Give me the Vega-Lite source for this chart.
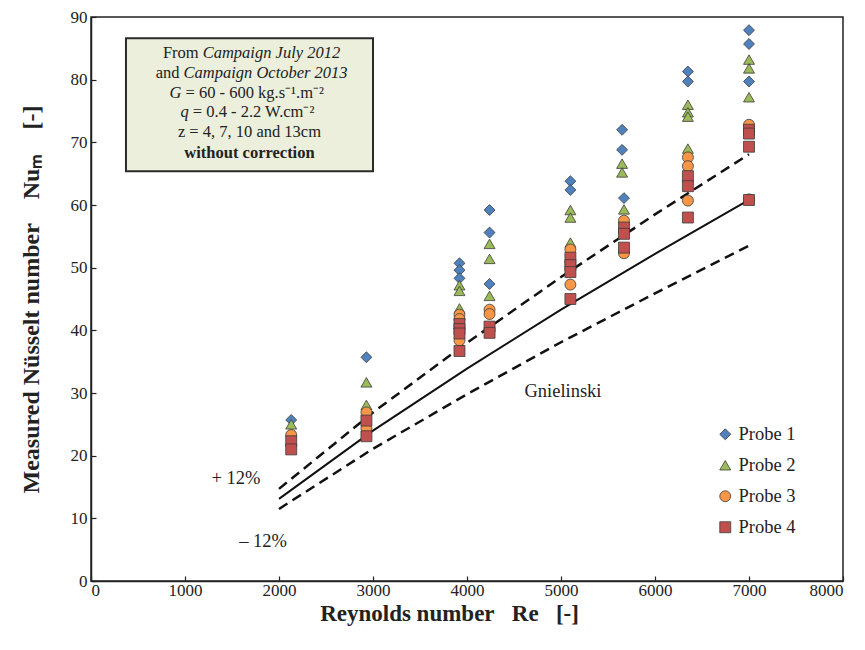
{
  "$schema": "https://vega.github.io/schema/vega-lite/v6.json",
  "width": 752,
  "height": 564,
  "autosize": {"type": "none"},
  "padding": {"left": 91, "top": 17, "right": 22, "bottom": 69},
  "background": "white",
  "config": {
    "font": "Liberation Serif",
    "view": {"stroke": "#222", "strokeWidth": 1.5},
    "axis": {
      "grid": false,
      "domainColor": "#222",
      "domainWidth": 1.5,
      "tickColor": "#222",
      "tickWidth": 1.2,
      "tickSize": -5,
      "labelFont": "Liberation Serif",
      "labelFontSize": 17,
      "labelColor": "#222",
      "titleFont": "Liberation Serif",
      "titleFontSize": 23,
      "titleFontWeight": "bold",
      "titleColor": "#222"
    },
    "legend": {"labelFont": "Liberation Serif"}
  },
  "datasets": {
    "probes": [
      {"probe": "Probe 1", "re": 2130, "nu": 25.7},
      {"probe": "Probe 1", "re": 2930, "nu": 35.7},
      {"probe": "Probe 1", "re": 3920, "nu": 50.7},
      {"probe": "Probe 1", "re": 3920, "nu": 49.6},
      {"probe": "Probe 1", "re": 3920, "nu": 48.3},
      {"probe": "Probe 1", "re": 4240, "nu": 59.2},
      {"probe": "Probe 1", "re": 4240, "nu": 55.6},
      {"probe": "Probe 1", "re": 4240, "nu": 47.4},
      {"probe": "Probe 1", "re": 5100, "nu": 63.8},
      {"probe": "Probe 1", "re": 5100, "nu": 62.4},
      {"probe": "Probe 1", "re": 5650, "nu": 72.0},
      {"probe": "Probe 1", "re": 5650, "nu": 68.8},
      {"probe": "Probe 1", "re": 5670, "nu": 61.1},
      {"probe": "Probe 1", "re": 6350, "nu": 81.3},
      {"probe": "Probe 1", "re": 6350, "nu": 79.7},
      {"probe": "Probe 1", "re": 7000, "nu": 87.9},
      {"probe": "Probe 1", "re": 7000, "nu": 85.7},
      {"probe": "Probe 1", "re": 7000, "nu": 79.7},
      {"probe": "Probe 2", "re": 2130, "nu": 25.0},
      {"probe": "Probe 2", "re": 2930, "nu": 31.7},
      {"probe": "Probe 2", "re": 2930, "nu": 28.1},
      {"probe": "Probe 2", "re": 3920, "nu": 47.2},
      {"probe": "Probe 2", "re": 3920, "nu": 46.3},
      {"probe": "Probe 2", "re": 3920, "nu": 43.5},
      {"probe": "Probe 2", "re": 4240, "nu": 53.8},
      {"probe": "Probe 2", "re": 4240, "nu": 51.4},
      {"probe": "Probe 2", "re": 4240, "nu": 45.5},
      {"probe": "Probe 2", "re": 5100, "nu": 59.2},
      {"probe": "Probe 2", "re": 5100, "nu": 58.0},
      {"probe": "Probe 2", "re": 5100, "nu": 54.0},
      {"probe": "Probe 2", "re": 5650, "nu": 66.6},
      {"probe": "Probe 2", "re": 5650, "nu": 65.2},
      {"probe": "Probe 2", "re": 5670, "nu": 59.3},
      {"probe": "Probe 2", "re": 6350, "nu": 76.0},
      {"probe": "Probe 2", "re": 6350, "nu": 74.8},
      {"probe": "Probe 2", "re": 6350, "nu": 74.1},
      {"probe": "Probe 2", "re": 6350, "nu": 69.0},
      {"probe": "Probe 2", "re": 7000, "nu": 83.2},
      {"probe": "Probe 2", "re": 7000, "nu": 81.8},
      {"probe": "Probe 2", "re": 7000, "nu": 77.2},
      {"probe": "Probe 3", "re": 2130, "nu": 23.3},
      {"probe": "Probe 3", "re": 2930, "nu": 26.9},
      {"probe": "Probe 3", "re": 2930, "nu": 24.4},
      {"probe": "Probe 3", "re": 3920, "nu": 42.5},
      {"probe": "Probe 3", "re": 3920, "nu": 41.8},
      {"probe": "Probe 3", "re": 3920, "nu": 38.4},
      {"probe": "Probe 3", "re": 4240, "nu": 43.3},
      {"probe": "Probe 3", "re": 4240, "nu": 42.6},
      {"probe": "Probe 3", "re": 5100, "nu": 52.9},
      {"probe": "Probe 3", "re": 5100, "nu": 50.5},
      {"probe": "Probe 3", "re": 5100, "nu": 47.3},
      {"probe": "Probe 3", "re": 5670, "nu": 57.5},
      {"probe": "Probe 3", "re": 5670, "nu": 52.3},
      {"probe": "Probe 3", "re": 6350, "nu": 67.6},
      {"probe": "Probe 3", "re": 6350, "nu": 66.2},
      {"probe": "Probe 3", "re": 6350, "nu": 60.7},
      {"probe": "Probe 3", "re": 7000, "nu": 72.8},
      {"probe": "Probe 3", "re": 7000, "nu": 60.9},
      {"probe": "Probe 4", "re": 2130, "nu": 22.3},
      {"probe": "Probe 4", "re": 2130, "nu": 21.0},
      {"probe": "Probe 4", "re": 2930, "nu": 25.6},
      {"probe": "Probe 4", "re": 2930, "nu": 23.1},
      {"probe": "Probe 4", "re": 3920, "nu": 41.0},
      {"probe": "Probe 4", "re": 3920, "nu": 40.2},
      {"probe": "Probe 4", "re": 3920, "nu": 39.5},
      {"probe": "Probe 4", "re": 3920, "nu": 36.7},
      {"probe": "Probe 4", "re": 4240, "nu": 40.6},
      {"probe": "Probe 4", "re": 4240, "nu": 39.6},
      {"probe": "Probe 4", "re": 5100, "nu": 51.6},
      {"probe": "Probe 4", "re": 5100, "nu": 50.4},
      {"probe": "Probe 4", "re": 5100, "nu": 49.3},
      {"probe": "Probe 4", "re": 5100, "nu": 45.0},
      {"probe": "Probe 4", "re": 5670, "nu": 56.4},
      {"probe": "Probe 4", "re": 5670, "nu": 55.4},
      {"probe": "Probe 4", "re": 5670, "nu": 53.2},
      {"probe": "Probe 4", "re": 6350, "nu": 64.6},
      {"probe": "Probe 4", "re": 6350, "nu": 63.0},
      {"probe": "Probe 4", "re": 6350, "nu": 58.0},
      {"probe": "Probe 4", "re": 7000, "nu": 72.0},
      {"probe": "Probe 4", "re": 7000, "nu": 71.4},
      {"probe": "Probe 4", "re": 7000, "nu": 69.3},
      {"probe": "Probe 4", "re": 7000, "nu": 60.8}
    ],
    "correlation": [
      {"curve": "Gnielinski", "re": 2000, "nu": 13.1},
      {"curve": "Gnielinski", "re": 3000, "nu": 24.0},
      {"curve": "Gnielinski", "re": 4000, "nu": 33.9},
      {"curve": "Gnielinski", "re": 5000, "nu": 43.3},
      {"curve": "Gnielinski", "re": 6000, "nu": 52.2},
      {"curve": "Gnielinski", "re": 7000, "nu": 60.8},
      {"curve": "+12%", "re": 2000, "nu": 14.7},
      {"curve": "+12%", "re": 3000, "nu": 26.9},
      {"curve": "+12%", "re": 4000, "nu": 38.0},
      {"curve": "+12%", "re": 5000, "nu": 48.5},
      {"curve": "+12%", "re": 6000, "nu": 58.5},
      {"curve": "+12%", "re": 7000, "nu": 68.1},
      {"curve": "-12%", "re": 2000, "nu": 11.5},
      {"curve": "-12%", "re": 3000, "nu": 21.1},
      {"curve": "-12%", "re": 4000, "nu": 29.8},
      {"curve": "-12%", "re": 5000, "nu": 38.1},
      {"curve": "-12%", "re": 6000, "nu": 45.9},
      {"curve": "-12%", "re": 7000, "nu": 53.5}
    ]
  },
  "layer": [
    {
      "data": {"values": [{"re": 372, "re2": 3000, "nu": 65.4, "nu2": 86.6}]},
      "mark": {"type": "rect", "fill": "#ebefdc", "stroke": "#2a2a2a", "strokeWidth": 2},
      "encoding": {
        "x": {"field": "re", "type": "quantitative", "scale": {"domain": [0, 8000], "nice": false},
              "axis": {"values": [0, 1000, 2000, 3000, 4000, 5000, 6000, 7000, 8000], "format": "d", "labelPadding": 6, "titlePadding": 4, "titleX": 358},
              "title": "Reynolds number\u00a0\u00a0 Re\u00a0\u00a0 [-]"},
        "x2": {"field": "re2"},
        "y": {"field": "nu", "type": "quantitative", "scale": {"domain": [0, 90], "nice": false},
              "axis": {"values": [0, 10, 20, 30, 40, 50, 60, 70, 80, 90], "format": "d", "labelPadding": 9, "titlePadding": 27, "titleFontSize": 24},
              "title": "Measured Nüsselt number\u00a0\u00a0\u00a0 Nuₘ\u00a0\u00a0\u00a0 [-]"},
        "y2": {"field": "nu2"}
      }
    },
    {
      "data": {"values": [
        {"text": "From", "re": 1167, "nu": 84.25},
        {"text": "and", "re": 963, "nu": 81.06}
      ]},
      "mark": {"type": "text", "align": "right", "baseline": "middle", "dx": -2, "font": "Liberation Serif", "fontSize": 16.5, "color": "#222"},
      "encoding": {
        "x": {"field": "re", "type": "quantitative", "title": "Reynolds number\u00a0\u00a0 Re\u00a0\u00a0 [-]"},
        "y": {"field": "nu", "type": "quantitative", "title": "Measured Nüsselt number\u00a0\u00a0\u00a0 Nuₘ\u00a0\u00a0\u00a0 [-]"},
        "text": {"field": "text"}
      }
    },
    {
      "data": {"values": [
        {"text": "Campaign July 2012", "re": 1167, "nu": 84.25},
        {"text": "Campaign October 2013", "re": 963, "nu": 81.06}
      ]},
      "mark": {"type": "text", "align": "left", "baseline": "middle", "dx": 2, "font": "Liberation Serif", "fontStyle": "italic", "fontSize": 16.5, "color": "#222"},
      "encoding": {
        "x": {"field": "re", "type": "quantitative", "title": "Reynolds number\u00a0\u00a0 Re\u00a0\u00a0 [-]"},
        "y": {"field": "nu", "type": "quantitative", "title": "Measured Nüsselt number\u00a0\u00a0\u00a0 Nuₘ\u00a0\u00a0\u00a0 [-]"},
        "text": {"field": "text"}
      }
    },
    {
      "data": {"values": [
        {"text": "G", "re": 984, "nu": 77.87},
        {"text": "q", "re": 1062, "nu": 74.84}
      ]},
      "mark": {"type": "text", "align": "right", "baseline": "middle", "dx": -2, "font": "Liberation Serif", "fontStyle": "italic", "fontSize": 16.5, "color": "#222"},
      "encoding": {
        "x": {"field": "re", "type": "quantitative", "title": "Reynolds number\u00a0\u00a0 Re\u00a0\u00a0 [-]"},
        "y": {"field": "nu", "type": "quantitative", "title": "Measured Nüsselt number\u00a0\u00a0\u00a0 Nuₘ\u00a0\u00a0\u00a0 [-]"},
        "text": {"field": "text"}
      }
    },
    {
      "data": {"values": [
        {"text": "= 60 - 600 kg.s⁻¹.m⁻²", "re": 984, "nu": 77.87},
        {"text": "= 0.4 - 2.2 W.cm⁻²", "re": 1062, "nu": 74.84}
      ]},
      "mark": {"type": "text", "align": "left", "baseline": "middle", "dx": 2, "font": "Liberation Serif", "fontSize": 16.5, "color": "#222"},
      "encoding": {
        "x": {"field": "re", "type": "quantitative", "title": "Reynolds number\u00a0\u00a0 Re\u00a0\u00a0 [-]"},
        "y": {"field": "nu", "type": "quantitative", "title": "Measured Nüsselt number\u00a0\u00a0\u00a0 Nuₘ\u00a0\u00a0\u00a0 [-]"},
        "text": {"field": "text"}
      }
    },
    {
      "data": {"values": [
        {"text": "z = 4, 7, 10 and 13cm", "re": 1686, "nu": 71.65}
      ]},
      "mark": {"type": "text", "align": "center", "baseline": "middle", "font": "Liberation Serif", "fontSize": 16.5, "color": "#222"},
      "encoding": {
        "x": {"field": "re", "type": "quantitative", "title": "Reynolds number\u00a0\u00a0 Re\u00a0\u00a0 [-]"},
        "y": {"field": "nu", "type": "quantitative", "title": "Measured Nüsselt number\u00a0\u00a0\u00a0 Nuₘ\u00a0\u00a0\u00a0 [-]"},
        "text": {"field": "text"}
      }
    },
    {
      "data": {"values": [
        {"text": "without correction", "re": 1686, "nu": 68.3}
      ]},
      "mark": {"type": "text", "align": "center", "baseline": "middle", "font": "Liberation Serif", "fontWeight": "bold", "fontSize": 16.5, "color": "#222"},
      "encoding": {
        "x": {"field": "re", "type": "quantitative", "title": "Reynolds number\u00a0\u00a0 Re\u00a0\u00a0 [-]"},
        "y": {"field": "nu", "type": "quantitative", "title": "Measured Nüsselt number\u00a0\u00a0\u00a0 Nuₘ\u00a0\u00a0\u00a0 [-]"},
        "text": {"field": "text"}
      }
    },
    {
      "data": {"name": "correlation"},
      "transform": [{"filter": "datum.curve === 'Gnielinski'"}],
      "mark": {"type": "line", "color": "#111", "strokeWidth": 2},
      "encoding": {
        "x": {"field": "re", "type": "quantitative", "title": "Reynolds number\u00a0\u00a0 Re\u00a0\u00a0 [-]"},
        "y": {"field": "nu", "type": "quantitative", "title": "Measured Nüsselt number\u00a0\u00a0\u00a0 Nuₘ\u00a0\u00a0\u00a0 [-]"}
      }
    },
    {
      "data": {"name": "correlation"},
      "transform": [{"filter": "datum.curve !== 'Gnielinski'"}],
      "mark": {"type": "line", "color": "#111", "strokeWidth": 2.5, "strokeDash": [10, 6]},
      "encoding": {
        "x": {"field": "re", "type": "quantitative", "title": "Reynolds number\u00a0\u00a0 Re\u00a0\u00a0 [-]"},
        "y": {"field": "nu", "type": "quantitative", "title": "Measured Nüsselt number\u00a0\u00a0\u00a0 Nuₘ\u00a0\u00a0\u00a0 [-]"},
        "detail": {"field": "curve"}
      }
    },
    {
      "data": {"values": [
        {"text": "Gnielinski", "re": 5021, "nu": 30.3},
        {"text": "+ 12%", "re": 1543, "nu": 16.4},
        {"text": "– 12%", "re": 1830, "nu": 6.4}
      ]},
      "mark": {"type": "text", "align": "center", "baseline": "middle", "font": "Liberation Serif", "fontSize": 18.5, "color": "#222"},
      "encoding": {
        "x": {"field": "re", "type": "quantitative", "title": "Reynolds number\u00a0\u00a0 Re\u00a0\u00a0 [-]"},
        "y": {"field": "nu", "type": "quantitative", "title": "Measured Nüsselt number\u00a0\u00a0\u00a0 Nuₘ\u00a0\u00a0\u00a0 [-]"},
        "text": {"field": "text"}
      }
    },
    {
      "data": {"name": "probes"},
      "mark": {"type": "point", "filled": true, "size": 120, "stroke": "#3b3b3b", "strokeWidth": 0.8, "opacity": 1},
      "encoding": {
        "x": {"field": "re", "type": "quantitative", "title": "Reynolds number\u00a0\u00a0 Re\u00a0\u00a0 [-]"},
        "y": {"field": "nu", "type": "quantitative", "title": "Measured Nüsselt number\u00a0\u00a0\u00a0 Nuₘ\u00a0\u00a0\u00a0 [-]"},
        "shape": {
          "field": "probe", "type": "nominal",
          "scale": {"domain": ["Probe 1", "Probe 2", "Probe 3", "Probe 4"], "range": ["diamond", "triangle-up", "circle", "square"]},
          "legend": {"title": null, "orient": "none", "legendX": 625, "legendY": 408, "labelFont": "Liberation Serif", "labelFontSize": 18.5, "labelColor": "#222", "symbolSize": 120, "symbolStrokeColor": "#3b3b3b", "symbolStrokeWidth": 0.8, "rowPadding": 12, "labelOffset": 4}
        },
        "color": {
          "field": "probe", "type": "nominal",
          "scale": {"domain": ["Probe 1", "Probe 2", "Probe 3", "Probe 4"], "range": ["#4f81bd", "#9bbb59", "#f79646", "#c0504d"]},
          "legend": {"title": null, "orient": "none", "legendX": 625, "legendY": 408, "labelFont": "Liberation Serif", "labelFontSize": 18.5, "labelColor": "#222", "symbolSize": 120, "symbolStrokeColor": "#3b3b3b", "symbolStrokeWidth": 0.8, "rowPadding": 12, "labelOffset": 4}
        }
      }
    }
  ]
}
